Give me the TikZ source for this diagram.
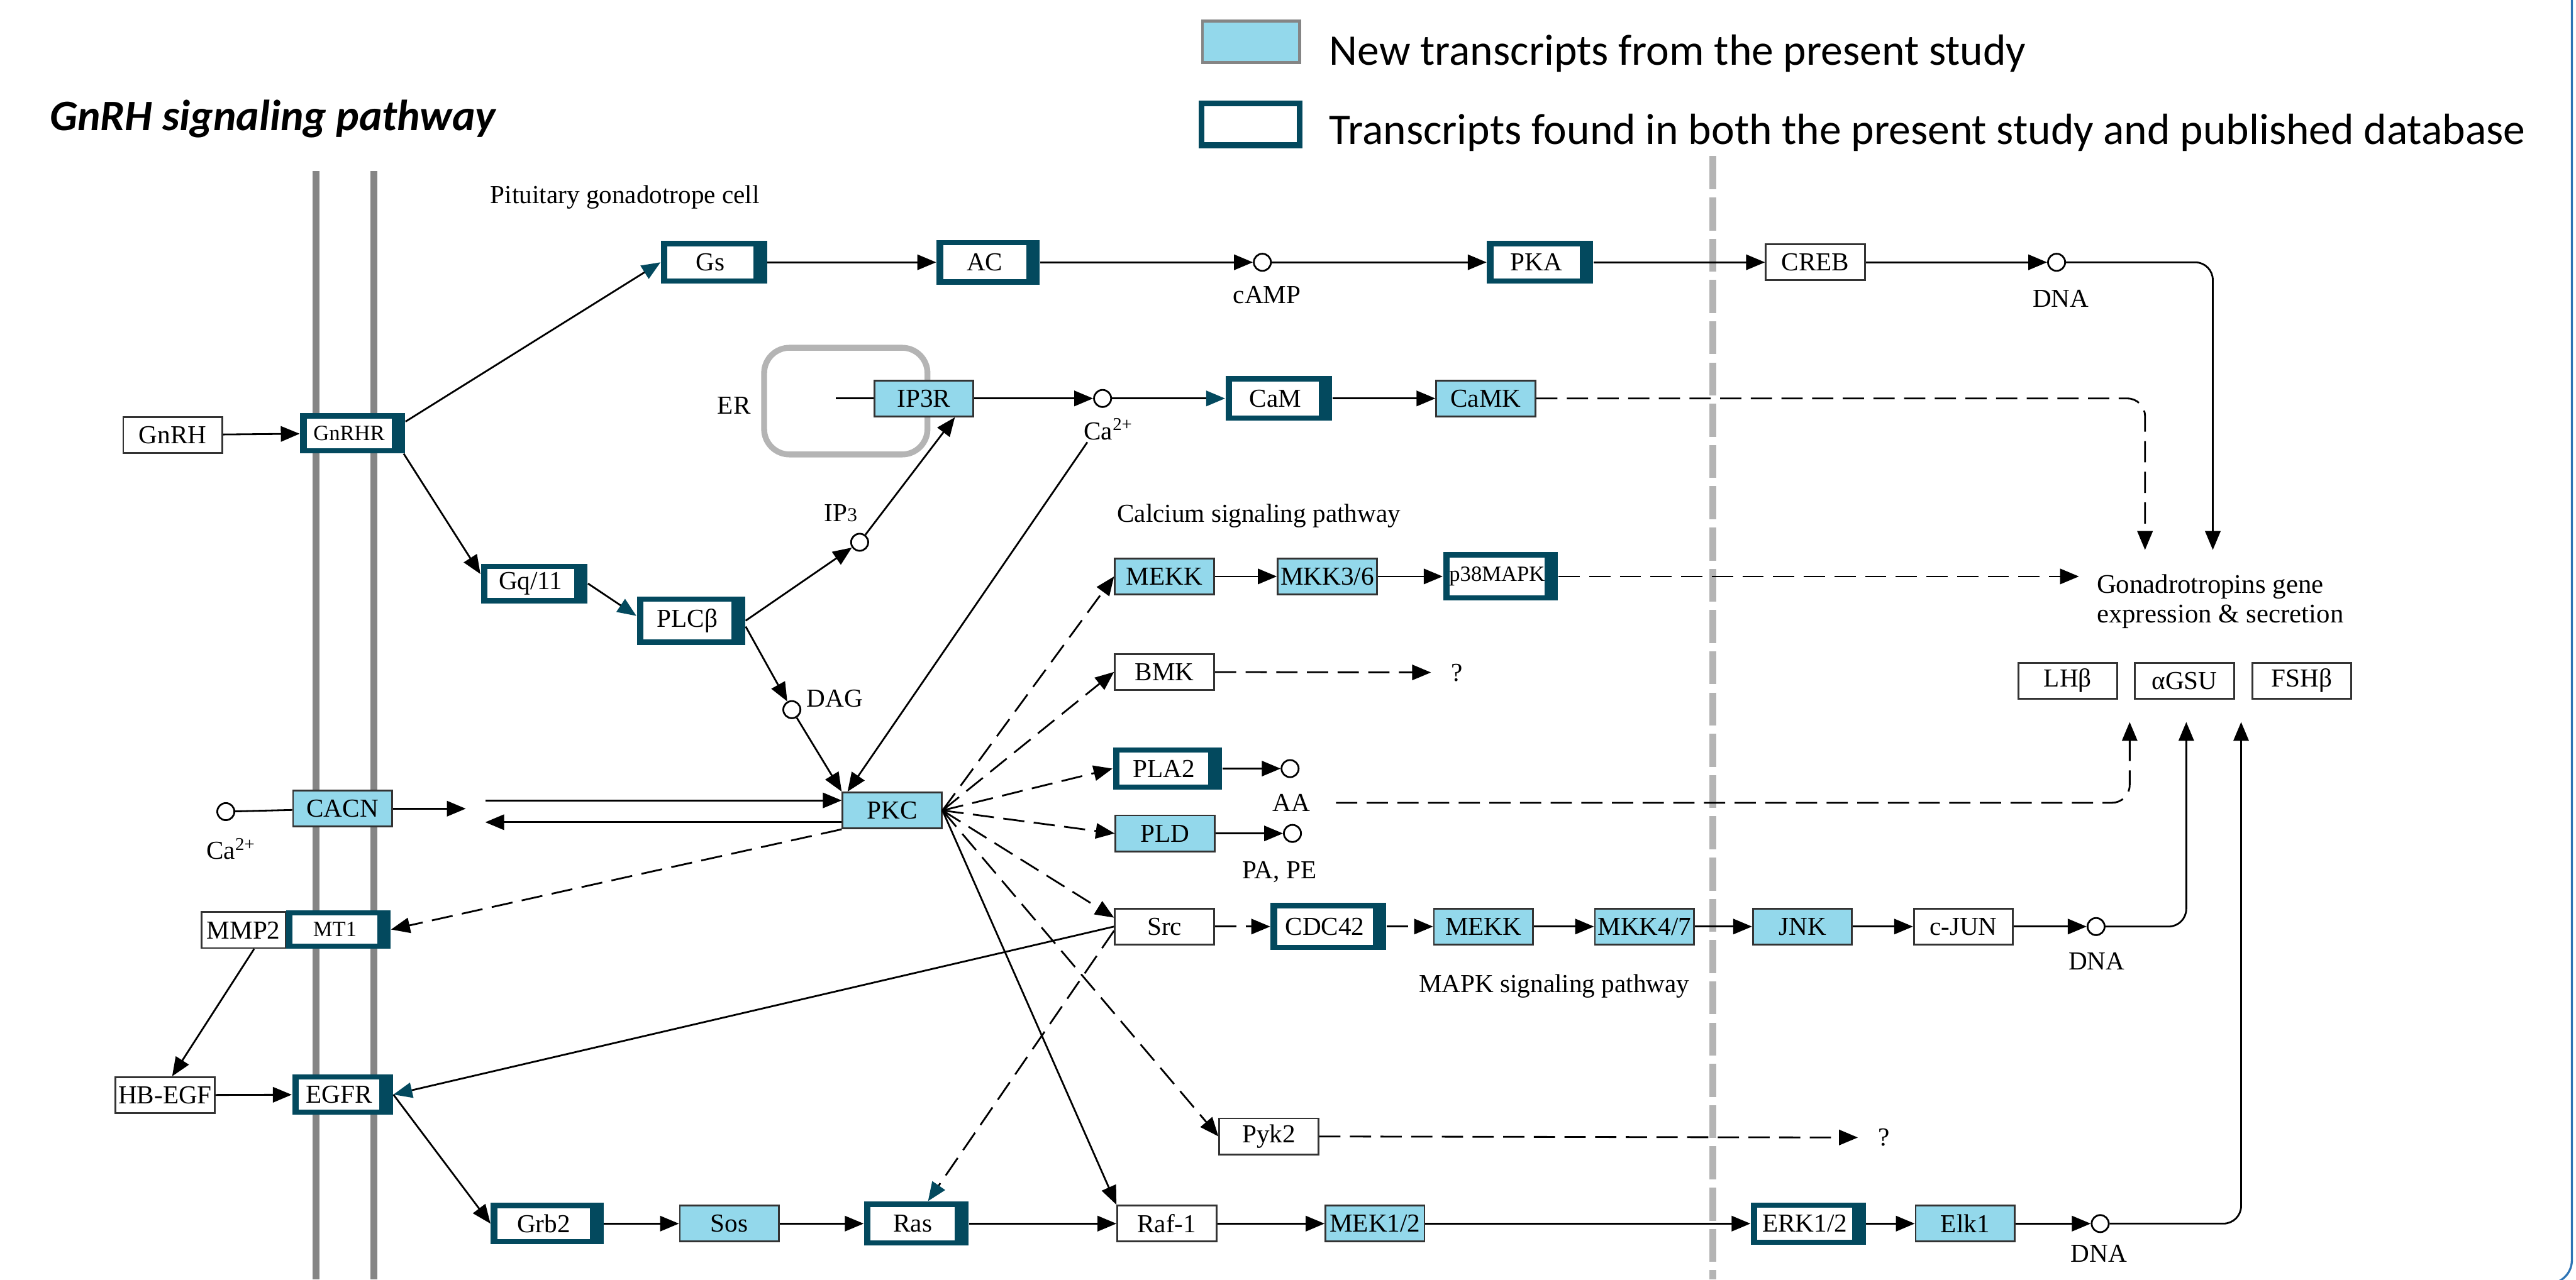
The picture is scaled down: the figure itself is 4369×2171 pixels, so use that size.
\documentclass[tikz,border=0pt]{standalone}
\usepackage{fontspec}
\setmainfont{Liberation Serif}
\newfontfamily\calib{Carlito}
\usetikzlibrary{arrows.meta}

\definecolor{dkteal}{HTML}{03495E}
\definecolor{keggblue}{HTML}{93D8EB}
\definecolor{memgray}{HTML}{858585}
\definecolor{ergray}{HTML}{B4B4B4}
\definecolor{frameblue}{HTML}{2E74B5}

\newcommand{\kegg}{\fontsize{12.5}{14}\selectfont}
\newcommand{\keggsmall}{\fontsize{10.5}{12}\selectfont}

\tikzset{
  gene/.style={draw=black!80, line width=0.3mm, fill=white, minimum width=16.8mm,
    minimum height=6.1mm, inner sep=0pt, font=\kegg},
  newgene/.style={gene, fill=keggblue},
  bothgene/.style={fill=dkteal, draw=none, minimum width=18mm, minimum height=7.2mm,
    inner sep=0pt, font=\kegg,
    path picture={\fill[white] ([xshift=1.1mm,yshift=-0.9mm]path picture bounding box.north west)
      rectangle ([xshift=-2.3mm,yshift=0.9mm]path picture bounding box.south east);},
    execute at begin node={\hspace*{-1.2mm}}},
  cpd/.style={circle, draw, line width=0.3mm, fill=white, minimum size=2.9mm, inner sep=0pt},
  txt/.style={font=\kegg, inner sep=1pt},
  link/.style={line width=0.3mm},
  act/.style={link, -{Triangle[length=3.2mm,width=2.6mm]}},
  tact/.style={link, -{Triangle[length=3.2mm,width=2.6mm,color=dkteal]}},
  indirect/.style={act, dash pattern=on 3.6mm off 1.6mm},
  tindirect/.style={tact, dash pattern=on 3.6mm off 1.6mm},
  membrane/.style={memgray, line width=1.2mm},
  nucleus/.style={ergray, line width=1.2mm, dash pattern=on 5.6mm off 1.4mm}
}

\begin{document}
\begin{tikzpicture}[x=0.1mm, y=-0.1mm]
\useasboundingbox (0,0) rectangle (4369,2171);

% Frame edge
\draw[frameblue, line width=0.35mm, rounded corners=4mm] (4362,-20) -- (4362,2178) -- (4150,2178);

% Title and legend
\node[anchor=base west, inner sep=0pt, font=\calib\bfseries\itshape\fontsize{21}{24}\selectfont] (title) at (84,221) {GnRH signaling pathway};
\node[draw=memgray, line width=0.5mm, fill=keggblue, minimum width=16.5mm, minimum height=7mm] (legnew) at (2122,71) {};
\node[draw=dkteal, line width=1mm, fill=white, minimum width=16.7mm, minimum height=7.1mm] (legboth) at (2121,211) {};
\node[anchor=base west, inner sep=0pt, font=\calib\fontsize{21.1}{24}\selectfont] (legnewtxt) at (2254,110) {New transcripts from the present study};
\node[anchor=base west, inner sep=0pt, font=\calib\fontsize{21.1}{24}\selectfont] (legbothtxt) at (2254,245) {Transcripts found in both the present study and published database};

% Membranes
\draw[membrane] (536,290) -- (536,2171);
\draw[membrane] (634,290) -- (634,2171);
\draw[nucleus] (2905,265) -- (2905,2171);
\draw[ergray, line width=1mm, rounded corners=4.3mm] (1296,590) rectangle (1573,771);

% Labels
\node[txt] (cell) at (1060,335) {Pituitary gonadotrope cell};
\node[txt] (calc) at (2135,875) {Calcium signaling pathway};
\node[txt] (mapk) at (2636,1673) {MAPK signaling pathway};
\node[txt] (er) at (1245,688) {ER};
\node[txt, anchor=north west, align=left, font=\fontsize{13}{14.5}\selectfont] (gon) at (3552,970) {Gonadrotropins gene\\expression \& secretion};
\node[txt] (q1) at (2471,1141) {?};
\node[txt] (q2) at (3195,1930) {?};

% Genes
\node[gene] (gnrh) at (293,738) {GnRH};
\node[bothgene, minimum width=17.8mm, minimum height=6.8mm, font=\keggsmall] (gnrhr) at (598,735) {GnRHR};
\node[bothgene] (gs) at (1211,445) {Gs};
\node[bothgene, minimum width=17.5mm, minimum height=7.6mm] (ac) at (1676,445) {AC};
\node[bothgene] (pka) at (2612,445) {PKA};
\node[gene] (creb) at (3079,445) {CREB};
\node[bothgene, minimum width=18.1mm, minimum height=6.7mm] (gq) at (906,990) {Gq/11};
\node[bothgene, minimum width=18.4mm, minimum height=8.2mm] (plcb) at (1172,1053) {PLCβ};
\node[newgene] (ip3r) at (1567,676) {IP3R};
\node[bothgene, minimum width=18.1mm, minimum height=7.6mm] (cam) at (2169,676) {CaM};
\node[newgene] (camk) at (2520,676) {CaMK};
\node[newgene] (mekkA) at (1975,978) {MEKK};
\node[newgene] (mkk36) at (2251,978) {MKK3/6};
\node[bothgene, minimum width=19.5mm, minimum height=8.2mm, font=\keggsmall] (p38) at (2545,978) {p38MAPK};
\node[gene] (bmk) at (1975,1140) {BMK};
\node[bothgene, minimum width=18.5mm] (pla2) at (1980,1304) {PLA2};
\node[newgene] (pld) at (1976,1414) {PLD};
\node[newgene] (pkc) at (1513,1375) {PKC};
\node[newgene] (cacn) at (581,1372) {CACN};
\node[gene, minimum width=14.3mm] (mmp2) at (413,1578) {MMP2};
\node[bothgene, minimum width=17.7mm, minimum height=6.6mm, font=\keggsmall] (mt1) at (574,1577) {MT1};
\node[gene] (hbegf) at (280,1858) {HB-EGF};
\node[bothgene, minimum width=17.1mm, minimum height=6.9mm] (egfr) at (581,1857) {EGFR};
\node[gene] (src) at (1975,1572) {Src};
\node[bothgene, minimum width=19.6mm, minimum height=8mm] (cdc42) at (2253,1572) {CDC42};
\node[newgene] (mekkB) at (2516,1572) {MEKK};
\node[newgene] (mkk47) at (2789,1572) {MKK4/7};
\node[newgene] (jnk) at (3057,1572) {JNK};
\node[gene] (cjun) at (3330,1572) {c-JUN};
\node[gene] (pyk2) at (2152,1928) {Pyk2};
\node[bothgene, minimum width=19.1mm, minimum height=7mm] (grb2) at (928,2076) {Grb2};
\node[newgene] (sos) at (1237,2076) {Sos};
\node[bothgene, minimum width=17.7mm, minimum height=7.5mm] (ras) at (1554,2076) {Ras};
\node[gene] (raf) at (1979,2076) {Raf-1};
\node[newgene] (mek12) at (2332,2076) {MEK1/2};
\node[bothgene, minimum width=19.5mm] (erk) at (3067,2076) {ERK1/2};
\node[newgene] (elk1) at (3333,2076) {Elk1};

% Hormone genes
\foreach \x/\n/\t in {3507/lhb/LHβ, 3705/agsu/αGSU, 3904/fshb/FSHβ}
  {
    \node[gene] (\n) at (\x,1155) {\t};
  }

% Compounds
\node[cpd] (camp) at (2141,445) {};
\node[txt] (camplbl) at (2149,500) {cAMP};
\node[cpd] (caA) at (1870,676) {};
\node[txt] (caAlbl) at (1880,728) {Ca\textsuperscript{2+}};
\node[cpd] (ip3) at (1458,920) {};
\node[txt] (ip3lbl) at (1426,871) {IP{\fontsize{9.5}{10}\selectfont 3}};
\node[cpd] (dag) at (1343,1204) {};
\node[txt] (daglbl) at (1416,1185) {DAG};
\node[cpd] (caB) at (383,1377) {};
\node[txt] (caBlbl) at (392,1440) {Ca\textsuperscript{2+}};
\node[cpd] (aa) at (2188,1304) {};
\node[txt] (aalbl) at (2190,1362) {AA};
\node[cpd] (pape) at (2192,1414) {};
\node[txt] (papelbl) at (2170,1479) {PA, PE};
\node[cpd] (dnaA) at (3488,445) {};
\node[txt] (dnaAlbl) at (3495,507) {DNA};
\node[cpd] (dnaB) at (3555,1572) {};
\node[txt] (dnaBlbl) at (3556,1631) {DNA};
\node[cpd] (dnaC) at (3562,2076) {};
\node[txt] (dnaClbl) at (3560,2127) {DNA};

% Free ends
\coordinate (erstub) at (1418,676);
\coordinate (cacnend) at (790,1372);
\coordinate (pkcin) at (823,1358);
\coordinate (pkcout) at (823,1395);
\coordinate (gonA) at (3638,933);
\coordinate (gonB) at (3753,933);
\coordinate (gonC) at (3526,978);
\coordinate (lhin) at (3612,1225);
\coordinate (gsuin) at (3708,1225);
\coordinate (fshin) at (3801,1225);

% cAMP branch
\draw[act] (gnrh) -- (gnrhr);
\draw[tact] ([yshift=-1.5mm]gnrhr.north east) -- (gs.west);
\draw[act] (gs) -- (ac);
\draw[act] (ac) -- (camp);
\draw[act] (camp) -- (pka);
\draw[act] (pka) -- (creb);
\draw[act] (creb) -- (dnaA);
\draw[act, rounded corners=3mm] (dnaA) -- (dnaA -| gonB) -- (gonB);

% Calcium branch
\draw[act] ([xshift=-0.3mm]gnrhr.south east) -- (gq.170);
\draw[tact] (gq.east) -- (plcb.175);
\draw[act] (plcb.east) -- (ip3);
\draw[act] ([yshift=-1mm]plcb.east) -- (dag);
\draw[act] (ip3) -- ([xshift=-3.3mm]ip3r.south east);
\draw[link] (erstub) -- (ip3r);
\draw[act] (ip3r) -- (caA);
\draw[tact] (caA) -- (cam);
\draw[act] (cam) -- (camk);
\draw[indirect, rounded corners=3mm] (camk) -- (camk -| gonA) -- (gonA);
\draw[act] (dag) -- (pkc.north west);
\draw[act] ([xshift=1mm]caAlbl.south west) -- ([xshift=1mm]pkc.north west);

% CACN
\draw[link] (caB) -- (cacn);
\draw[act] (cacn) -- (cacnend);
\draw[act] (pkcin) -- (pkcin -| pkc.west);
\draw[act] (pkcout -| pkc.west) -- (pkcout);

% PKC targets
\foreach \t in {mekkA.west, bmk.west, pla2.west, pld.west, src.170, pyk2.west}
  {
    \draw[indirect] (pkc.east) -- (\t);
  }
\draw[act] (pkc.east) -- (raf.north west);
\draw[indirect] (pkc.south west) -- (mt1.east);
\draw[act] (mekkA) -- (mkk36);
\draw[act] (mkk36) -- (p38);
\draw[indirect] (p38) -- (gonC);
\draw[indirect, shorten >=3mm] (bmk) -- (q1);
\draw[act] (pla2) -- (aa);
\draw[act] (pld) -- (pape);
\draw[indirect, rounded corners=3mm, shorten <=4mm] (aalbl.east) -- (aalbl.east -| lhin) -- (lhin);

% JNK branch
\draw[indirect] (src) -- (cdc42);
\draw[indirect] (cdc42) -- (mekkB);
\draw[act] (mekkB) -- (mkk47);
\draw[act] (mkk47) -- (jnk);
\draw[act] (jnk) -- (cjun);
\draw[act] (cjun) -- (dnaB);
\draw[act, rounded corners=3mm] (dnaB) -- (dnaB -| gsuin) -- (gsuin);
\draw[indirect, shorten >=3mm] (pyk2) -- (q2);

% EGFR / ERK branch
\draw[tact] (src.west) -- (egfr.east);
\draw[tindirect] ([yshift=-0.7mm]src.west) -- ([xshift=2mm]ras.north);
\draw[act] ([xshift=1.8mm]mmp2.south) -- ([xshift=1.2mm]hbegf.north);
\draw[act] (hbegf) -- (egfr);
\draw[act] (egfr.east) -- (grb2.west);
\draw[act] (grb2) -- (sos);
\draw[act] (sos) -- (ras);
\draw[act] (ras) -- (raf);
\draw[act] (raf) -- (mek12);
\draw[act] (mek12) -- (erk);
\draw[act] (erk) -- (elk1);
\draw[act] (elk1) -- (dnaC);
\draw[act, rounded corners=3mm] (dnaC) -- (dnaC -| fshin) -- (fshin);

\end{tikzpicture}
\end{document}
